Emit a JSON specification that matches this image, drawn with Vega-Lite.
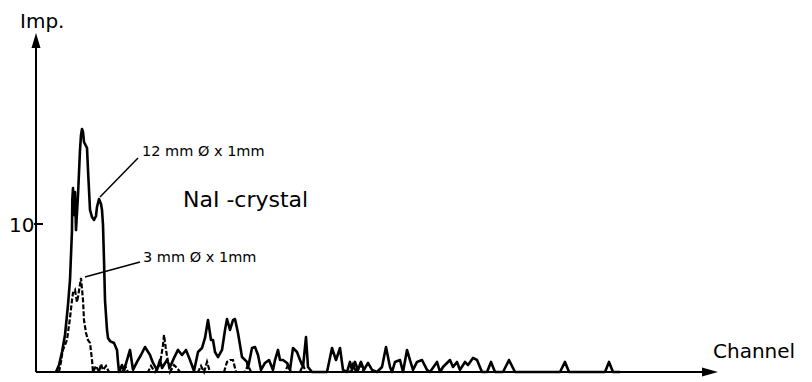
{
  "$schema": "https://vega.github.io/schema/vega-lite/v6.json",
  "width": 776,
  "height": 372,
  "padding": {"left": 36, "top": 0, "right": 0, "bottom": 10},
  "autosize": {"type": "none"},
  "background": "white",
  "config": {"view": {"stroke": null}, "text": {"font": "DejaVu Sans", "color": "black"}},
  "datasets": {
    "spectrum": [
      {"s": "12 mm", "ch": 20, "imp": 0}, {"s": "12 mm", "ch": 23, "imp": 0.47}, {"s": "12 mm", "ch": 26, "imp": 1.35}, {"s": "12 mm", "ch": 29, "imp": 2.5}, {"s": "12 mm", "ch": 32, "imp": 4.53}, {"s": "12 mm", "ch": 34, "imp": 6.22}, {"s": "12 mm", "ch": 35, "imp": 7.91}, {"s": "12 mm", "ch": 36, "imp": 9.59}, {"s": "12 mm", "ch": 36.3, "imp": 11.62}, {"s": "12 mm", "ch": 37, "imp": 12.43}, {"s": "12 mm", "ch": 38, "imp": 10.61}, {"s": "12 mm", "ch": 39, "imp": 12.16}, {"s": "12 mm", "ch": 40, "imp": 9.59}, {"s": "12 mm", "ch": 42, "imp": 11.96}, {"s": "12 mm", "ch": 44, "imp": 15.0}, {"s": "12 mm", "ch": 45, "imp": 16.01}, {"s": "12 mm", "ch": 46, "imp": 16.42}, {"s": "12 mm", "ch": 47, "imp": 16.22}, {"s": "12 mm", "ch": 48, "imp": 15.54}, {"s": "12 mm", "ch": 50, "imp": 15.27}, {"s": "12 mm", "ch": 51, "imp": 15.14}, {"s": "12 mm", "ch": 52, "imp": 13.65}, {"s": "12 mm", "ch": 54, "imp": 10.95}, {"s": "12 mm", "ch": 56, "imp": 10.47}, {"s": "12 mm", "ch": 58, "imp": 10.27}, {"s": "12 mm", "ch": 60, "imp": 10.54}, {"s": "12 mm", "ch": 61, "imp": 11.15}, {"s": "12 mm", "ch": 63, "imp": 11.69}, {"s": "12 mm", "ch": 65, "imp": 11.35}, {"s": "12 mm", "ch": 66, "imp": 10.95}, {"s": "12 mm", "ch": 67, "imp": 9.93}, {"s": "12 mm", "ch": 68, "imp": 7.57}, {"s": "12 mm", "ch": 69, "imp": 4.86}, {"s": "12 mm", "ch": 71, "imp": 2.84}, {"s": "12 mm", "ch": 72, "imp": 2.3}, {"s": "12 mm", "ch": 74, "imp": 2.09}, {"s": "12 mm", "ch": 78, "imp": 1.96}, {"s": "12 mm", "ch": 81, "imp": 1.49}, {"s": "12 mm", "ch": 82, "imp": 0.68}, {"s": "12 mm", "ch": 83, "imp": 0}, {"s": "12 mm", "ch": 86, "imp": 0.47}, {"s": "12 mm", "ch": 88, "imp": 0.07}, {"s": "12 mm", "ch": 91, "imp": 0.81}, {"s": "12 mm", "ch": 94, "imp": 1.49}, {"s": "12 mm", "ch": 97, "imp": 0.14}, {"s": "12 mm", "ch": 101, "imp": 0.68}, {"s": "12 mm", "ch": 105, "imp": 1.15}, {"s": "12 mm", "ch": 109, "imp": 1.69}, {"s": "12 mm", "ch": 114, "imp": 1.15}, {"s": "12 mm", "ch": 117, "imp": 0.61}, {"s": "12 mm", "ch": 121, "imp": 0.14}, {"s": "12 mm", "ch": 124, "imp": 0.81}, {"s": "12 mm", "ch": 126, "imp": 0.27}, {"s": "12 mm", "ch": 131, "imp": 0.81}, {"s": "12 mm", "ch": 134, "imp": 0.34}, {"s": "12 mm", "ch": 138, "imp": 0.95}, {"s": "12 mm", "ch": 142, "imp": 1.49}, {"s": "12 mm", "ch": 146, "imp": 1.15}, {"s": "12 mm", "ch": 150, "imp": 1.49}, {"s": "12 mm", "ch": 154, "imp": 0.81}, {"s": "12 mm", "ch": 158, "imp": 0.07}, {"s": "12 mm", "ch": 162, "imp": 1.35}, {"s": "12 mm", "ch": 166, "imp": 1.62}, {"s": "12 mm", "ch": 169, "imp": 2.3}, {"s": "12 mm", "ch": 172, "imp": 3.51}, {"s": "12 mm", "ch": 175, "imp": 2.16}, {"s": "12 mm", "ch": 177, "imp": 2.16}, {"s": "12 mm", "ch": 179, "imp": 1.35}, {"s": "12 mm", "ch": 182, "imp": 1.01}, {"s": "12 mm", "ch": 186, "imp": 1.49}, {"s": "12 mm", "ch": 189, "imp": 2.84}, {"s": "12 mm", "ch": 191, "imp": 3.58}, {"s": "12 mm", "ch": 194, "imp": 2.84}, {"s": "12 mm", "ch": 197, "imp": 3.51}, {"s": "12 mm", "ch": 199, "imp": 3.58}, {"s": "12 mm", "ch": 202, "imp": 2.64}, {"s": "12 mm", "ch": 206, "imp": 1.01}, {"s": "12 mm", "ch": 211, "imp": 0.68}, {"s": "12 mm", "ch": 212, "imp": 0.27}, {"s": "12 mm", "ch": 216, "imp": 1.62}, {"s": "12 mm", "ch": 219, "imp": 1.69}, {"s": "12 mm", "ch": 222, "imp": 1.15}, {"s": "12 mm", "ch": 225, "imp": 0.14}, {"s": "12 mm", "ch": 229, "imp": 0.61}, {"s": "12 mm", "ch": 233, "imp": 0.81}, {"s": "12 mm", "ch": 237, "imp": 0.14}, {"s": "12 mm", "ch": 239, "imp": 0.81}, {"s": "12 mm", "ch": 242, "imp": 1.49}, {"s": "12 mm", "ch": 244, "imp": 0.81}, {"s": "12 mm", "ch": 247, "imp": 0.81}, {"s": "12 mm", "ch": 251, "imp": 0.61}, {"s": "12 mm", "ch": 254, "imp": 0.14}, {"s": "12 mm", "ch": 257, "imp": 1.62}, {"s": "12 mm", "ch": 261, "imp": 1.35}, {"s": "12 mm", "ch": 264, "imp": 0.81}, {"s": "12 mm", "ch": 267, "imp": 0.34}, {"s": "12 mm", "ch": 270, "imp": 2.36}, {"s": "12 mm", "ch": 272, "imp": 0.34}, {"s": "12 mm", "ch": 276, "imp": 0}, {"s": "12 mm", "ch": 291, "imp": 0}, {"s": "12 mm", "ch": 296, "imp": 1.62}, {"s": "12 mm", "ch": 300, "imp": 0.81}, {"s": "12 mm", "ch": 304, "imp": 1.62}, {"s": "12 mm", "ch": 307, "imp": 0.14}, {"s": "12 mm", "ch": 311, "imp": 0}, {"s": "12 mm", "ch": 314, "imp": 0.68}, {"s": "12 mm", "ch": 316, "imp": 0.14}, {"s": "12 mm", "ch": 319, "imp": 0.68}, {"s": "12 mm", "ch": 322, "imp": 0.14}, {"s": "12 mm", "ch": 325, "imp": 0.68}, {"s": "12 mm", "ch": 328, "imp": 0.14}, {"s": "12 mm", "ch": 332, "imp": 0.61}, {"s": "12 mm", "ch": 336, "imp": 0.14}, {"s": "12 mm", "ch": 341, "imp": 0}, {"s": "12 mm", "ch": 346, "imp": 0.34}, {"s": "12 mm", "ch": 350, "imp": 1.69}, {"s": "12 mm", "ch": 354, "imp": 0.34}, {"s": "12 mm", "ch": 356, "imp": 0}, {"s": "12 mm", "ch": 359, "imp": 0.68}, {"s": "12 mm", "ch": 364, "imp": 0.81}, {"s": "12 mm", "ch": 367, "imp": 0}, {"s": "12 mm", "ch": 371, "imp": 1.49}, {"s": "12 mm", "ch": 374, "imp": 0.81}, {"s": "12 mm", "ch": 377, "imp": 0.14}, {"s": "12 mm", "ch": 381, "imp": 0.68}, {"s": "12 mm", "ch": 386, "imp": 0.81}, {"s": "12 mm", "ch": 391, "imp": 0.14}, {"s": "12 mm", "ch": 394, "imp": 0}, {"s": "12 mm", "ch": 401, "imp": 0.68}, {"s": "12 mm", "ch": 404, "imp": 0}, {"s": "12 mm", "ch": 407, "imp": 0.34}, {"s": "12 mm", "ch": 414, "imp": 0.81}, {"s": "12 mm", "ch": 417, "imp": 0.34}, {"s": "12 mm", "ch": 421, "imp": 0.68}, {"s": "12 mm", "ch": 424, "imp": 0.14}, {"s": "12 mm", "ch": 429, "imp": 0.68}, {"s": "12 mm", "ch": 432, "imp": 0.47}, {"s": "12 mm", "ch": 437, "imp": 0.95}, {"s": "12 mm", "ch": 441, "imp": 0.81}, {"s": "12 mm", "ch": 446, "imp": 0}, {"s": "12 mm", "ch": 451, "imp": 0}, {"s": "12 mm", "ch": 455, "imp": 0.68}, {"s": "12 mm", "ch": 459, "imp": 0}, {"s": "12 mm", "ch": 467, "imp": 0}, {"s": "12 mm", "ch": 473, "imp": 0.81}, {"s": "12 mm", "ch": 479, "imp": 0}, {"s": "12 mm", "ch": 524, "imp": 0}, {"s": "12 mm", "ch": 529, "imp": 0.68}, {"s": "12 mm", "ch": 533, "imp": 0}, {"s": "12 mm", "ch": 569, "imp": 0}, {"s": "12 mm", "ch": 573, "imp": 0.68}, {"s": "12 mm", "ch": 577, "imp": 0}, {"s": "12 mm", "ch": 584, "imp": 0}
    ],
    "spectrum3": [
      {"s": "3 mm", "ch": 23, "imp": 0}, {"s": "3 mm", "ch": 25, "imp": 0.68}, {"s": "3 mm", "ch": 26, "imp": 1.15}, {"s": "3 mm", "ch": 27, "imp": 1.49}, {"s": "3 mm", "ch": 31, "imp": 2.16}, {"s": "3 mm", "ch": 34, "imp": 3.65}, {"s": "3 mm", "ch": 36, "imp": 4.86}, {"s": "3 mm", "ch": 37, "imp": 5.34}, {"s": "3 mm", "ch": 39, "imp": 5.54}, {"s": "3 mm", "ch": 41, "imp": 4.73}, {"s": "3 mm", "ch": 42, "imp": 5.07}, {"s": "3 mm", "ch": 45, "imp": 6.35}, {"s": "3 mm", "ch": 47, "imp": 4.86}, {"s": "3 mm", "ch": 48, "imp": 3.51}, {"s": "3 mm", "ch": 50, "imp": 2.64}, {"s": "3 mm", "ch": 52, "imp": 2.16}, {"s": "3 mm", "ch": 54, "imp": 1.96}, {"s": "3 mm", "ch": 56, "imp": 0.81}, {"s": "3 mm", "ch": 57, "imp": 0}, {"s": "3 mm", "ch": 60, "imp": 0.41}, {"s": "3 mm", "ch": 63, "imp": 0}, {"s": "3 mm", "ch": 65, "imp": 0.54}, {"s": "3 mm", "ch": 67, "imp": 0.14}, {"s": "3 mm", "ch": 70, "imp": 0.41}, {"s": "3 mm", "ch": 73, "imp": 0}, {"s": "3 mm", "ch": 86, "imp": 0}, {"s": "3 mm", "ch": 89, "imp": 0.41}, {"s": "3 mm", "ch": 92, "imp": 0}, {"s": "3 mm", "ch": 112, "imp": 0}, {"s": "3 mm", "ch": 115, "imp": 0.41}, {"s": "3 mm", "ch": 119, "imp": 0}, {"s": "3 mm", "ch": 124, "imp": 0.54}, {"s": "3 mm", "ch": 127, "imp": 1.82}, {"s": "3 mm", "ch": 128, "imp": 2.5}, {"s": "3 mm", "ch": 130, "imp": 1.49}, {"s": "3 mm", "ch": 132, "imp": 0.68}, {"s": "3 mm", "ch": 134, "imp": 0}, {"s": "3 mm", "ch": 138, "imp": 0.47}, {"s": "3 mm", "ch": 141, "imp": 0.27}, {"s": "3 mm", "ch": 144, "imp": 0}, {"s": "3 mm", "ch": 162, "imp": 0}, {"s": "3 mm", "ch": 165, "imp": 0.41}, {"s": "3 mm", "ch": 168, "imp": 0}, {"s": "3 mm", "ch": 171, "imp": 0.68}, {"s": "3 mm", "ch": 174, "imp": 0}, {"s": "3 mm", "ch": 188, "imp": 0}, {"s": "3 mm", "ch": 191, "imp": 0.68}, {"s": "3 mm", "ch": 194, "imp": 0.81}, {"s": "3 mm", "ch": 197, "imp": 0.81}, {"s": "3 mm", "ch": 200, "imp": 0}, {"s": "3 mm", "ch": 209, "imp": 0}, {"s": "3 mm", "ch": 212, "imp": 0.47}, {"s": "3 mm", "ch": 215, "imp": 0}, {"s": "3 mm", "ch": 249, "imp": 0}, {"s": "3 mm", "ch": 252, "imp": 0.47}, {"s": "3 mm", "ch": 255, "imp": 0}, {"s": "3 mm", "ch": 264, "imp": 0}, {"s": "3 mm", "ch": 267, "imp": 0.47}, {"s": "3 mm", "ch": 270, "imp": 0}, {"s": "3 mm", "ch": 314, "imp": 0}, {"s": "3 mm", "ch": 317, "imp": 0.54}, {"s": "3 mm", "ch": 320, "imp": 0}, {"s": "3 mm", "ch": 324, "imp": 0.54}, {"s": "3 mm", "ch": 328, "imp": 0}, {"s": "3 mm", "ch": 344, "imp": 0}
    ]
  },
  "layer": [
    {
      "data": {"values": [
        {"ch": 0, "imp": 0, "ch2": 0, "imp2": 22.4},
        {"ch": 0, "imp": 0, "ch2": 674, "imp2": 0},
        {"ch": -2, "imp": 10, "ch2": 7, "imp2": 10}
      ]},
      "mark": {"type": "rule", "strokeWidth": 2, "color": "black"},
      "encoding": {
        "x": {"field": "ch", "type": "quantitative", "scale": {"domain": [0, 776], "nice": false, "zero": false}, "axis": null},
        "x2": {"field": "ch2"},
        "y": {"field": "imp", "type": "quantitative", "scale": {"domain": [0, 25.135], "nice": false, "zero": false}, "axis": null},
        "y2": {"field": "imp2"}
      }
    },
    {
      "data": {"values": [
        {"ch": 102, "imp": 14.46, "ch2": 64, "imp2": 11.82},
        {"ch": 104, "imp": 7.43, "ch2": 49, "imp2": 6.42}
      ]},
      "mark": {"type": "rule", "strokeWidth": 1.5, "color": "black"},
      "encoding": {
        "x": {"field": "ch", "type": "quantitative", "scale": {"domain": [0, 776], "nice": false, "zero": false}, "axis": null},
        "x2": {"field": "ch2"},
        "y": {"field": "imp", "type": "quantitative", "scale": {"domain": [0, 25.135], "nice": false, "zero": false}, "axis": null},
        "y2": {"field": "imp2"}
      }
    },
    {
      "data": {"values": [{"ch": 0, "imp": 22.4}]},
      "mark": {"type": "point", "shape": "M0,-1L0.6,1L-0.6,1Z", "size": 225, "filled": true, "color": "black", "opacity": 1},
      "encoding": {
        "x": {"field": "ch", "type": "quantitative", "scale": {"domain": [0, 776], "nice": false, "zero": false}, "axis": null},
        "y": {"field": "imp", "type": "quantitative", "scale": {"domain": [0, 25.135], "nice": false, "zero": false}, "axis": null}
      }
    },
    {
      "data": {"values": [{"ch": 674, "imp": 0}]},
      "mark": {"type": "point", "shape": "M1,0L-1,0.5625L-1,-0.5625Z", "size": 256, "filled": true, "color": "black", "opacity": 1},
      "encoding": {
        "x": {"field": "ch", "type": "quantitative", "scale": {"domain": [0, 776], "nice": false, "zero": false}, "axis": null},
        "y": {"field": "imp", "type": "quantitative", "scale": {"domain": [0, 25.135], "nice": false, "zero": false}, "axis": null}
      }
    },
    {
      "data": {"name": "spectrum"},
      "mark": {"type": "line", "strokeWidth": 2.6, "color": "black", "strokeJoin": "round"},
      "encoding": {
        "x": {"field": "ch", "type": "quantitative", "scale": {"domain": [0, 776], "nice": false, "zero": false}, "axis": null},
        "y": {"field": "imp", "type": "quantitative", "scale": {"domain": [0, 25.135], "nice": false, "zero": false}, "axis": null}
      }
    },
    {
      "data": {"name": "spectrum3"},
      "mark": {"type": "line", "strokeWidth": 2.2, "color": "black", "strokeDash": [5, 2]},
      "encoding": {
        "x": {"field": "ch", "type": "quantitative", "scale": {"domain": [0, 776], "nice": false, "zero": false}, "axis": null},
        "y": {"field": "imp", "type": "quantitative", "scale": {"domain": [0, 25.135], "nice": false, "zero": false}, "axis": null}
      }
    },
    {
      "data": {"values": [{"t": "Imp.", "ch": -16, "imp": 23.24}]},
      "mark": {"type": "text", "fontSize": 20, "align": "left", "baseline": "alphabetic"},
      "encoding": {
        "x": {"field": "ch", "type": "quantitative", "scale": {"domain": [0, 776], "nice": false, "zero": false}, "axis": null},
        "y": {"field": "imp", "type": "quantitative", "scale": {"domain": [0, 25.135], "nice": false, "zero": false}, "axis": null},
        "text": {"field": "t"}
      }
    },
    {
      "data": {"values": [{"t": "10", "ch": -1.5, "imp": 9.46}]},
      "mark": {"type": "text", "fontSize": 20, "align": "right", "baseline": "alphabetic"},
      "encoding": {
        "x": {"field": "ch", "type": "quantitative", "scale": {"domain": [0, 776], "nice": false, "zero": false}, "axis": null},
        "y": {"field": "imp", "type": "quantitative", "scale": {"domain": [0, 25.135], "nice": false, "zero": false}, "axis": null},
        "text": {"field": "t"}
      }
    },
    {
      "data": {"values": [
        {"t": "12 mm Ø x 1mm", "ch": 106, "imp": 14.59},
        {"t": "3 mm Ø x 1mm", "ch": 107, "imp": 7.43}
      ]},
      "mark": {"type": "text", "fontSize": 14.5, "align": "left", "baseline": "alphabetic"},
      "encoding": {
        "x": {"field": "ch", "type": "quantitative", "scale": {"domain": [0, 776], "nice": false, "zero": false}, "axis": null},
        "y": {"field": "imp", "type": "quantitative", "scale": {"domain": [0, 25.135], "nice": false, "zero": false}, "axis": null},
        "text": {"field": "t"}
      }
    },
    {
      "data": {"values": [{"t": "NaI -crystal", "ch": 147, "imp": 11.15}]},
      "mark": {"type": "text", "fontSize": 22, "align": "left", "baseline": "alphabetic"},
      "encoding": {
        "x": {"field": "ch", "type": "quantitative", "scale": {"domain": [0, 776], "nice": false, "zero": false}, "axis": null},
        "y": {"field": "imp", "type": "quantitative", "scale": {"domain": [0, 25.135], "nice": false, "zero": false}, "axis": null},
        "text": {"field": "t"}
      }
    },
    {
      "data": {"values": [{"t": "Channel", "ch": 677, "imp": 0.946}]},
      "mark": {"type": "text", "fontSize": 20, "align": "left", "baseline": "alphabetic"},
      "encoding": {
        "x": {"field": "ch", "type": "quantitative", "scale": {"domain": [0, 776], "nice": false, "zero": false}, "axis": null},
        "y": {"field": "imp", "type": "quantitative", "scale": {"domain": [0, 25.135], "nice": false, "zero": false}, "axis": null},
        "text": {"field": "t"}
      }
    }
  ]
}
